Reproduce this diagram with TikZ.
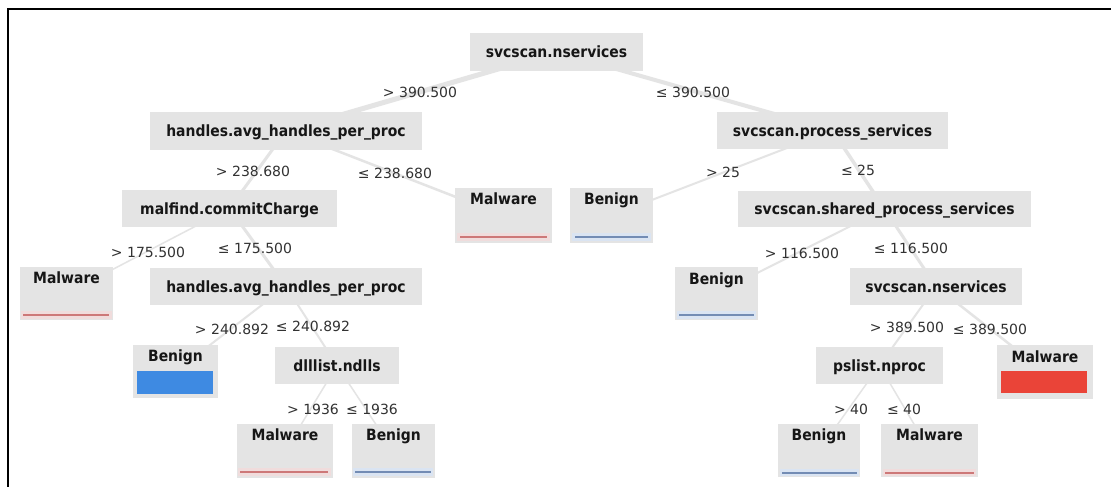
\documentclass[tikz,border=0pt]{standalone}
\usepackage{fontspec}
\setmainfont{DejaVu Sans}
\newfontfamily\nodefont[FakeStretch=0.9]{DejaVu Sans Bold}
\usetikzlibrary{backgrounds}
\definecolor{boxgray}{RGB}{228,228,228}
\definecolor{edgegray}{RGB}{228,228,228}
\definecolor{txt}{RGB}{22,22,22}
\definecolor{lbl}{RGB}{50,50,50}
\definecolor{malline}{RGB}{205,120,120}
\definecolor{benline}{RGB}{115,140,180}
\definecolor{malband}{RGB}{240,220,220}
\definecolor{benband}{RGB}{218,228,242}
\definecolor{malfill}{RGB}{234,68,56}
\definecolor{benfill}{RGB}{62,138,226}
\tikzset{
  inner/.style={fill=boxgray, inner sep=0pt, text=txt, text height=11pt, text depth=0pt,
                font=\nodefont\fontsize{15.5}{17}\selectfont},
  leafbox/.style={fill=boxgray, inner sep=0pt},
  leaftext/.style={inner sep=0pt, text=txt, text height=11pt, text depth=0pt,
                   font=\nodefont\fontsize{15.5}{17}\selectfont},
  cond/.style={inner sep=0pt, text=lbl, text height=10pt, text depth=0pt,
               font=\fontsize{14}{16}\selectfont},
  conn/.style={draw=edgegray, line width=#1, line cap=round},
  conn/.default=3pt,
  malbar/.style={draw=malline, line width=1.6pt},
  benbar/.style={draw=benline, line width=1.6pt},
}
\begin{document}
\begin{tikzpicture}[x=1pt,y=-1pt]
\useasboundingbox (0,0) rectangle (1111,487);
\draw[line width=2pt] (7.5,487) -- (7.5,9.5) -- (1111,9.5);

% inner nodes
\node[inner, minimum width=173pt, minimum height=38pt] (root) at (556.5,52) {svcscan.nservices};
\node[inner, minimum width=272pt, minimum height=38pt] (h1) at (286,131) {handles.avg\_handles\_per\_proc};
\node[inner, minimum width=231pt, minimum height=37pt] (sp) at (832.5,130.5) {svcscan.process\_services};
\node[inner, minimum width=215pt, minimum height=37pt] (mf) at (229.5,208.5) {malfind.commitCharge};
\node[inner, minimum width=293pt, minimum height=36pt] (shp) at (884.5,209) {svcscan.shared\_process\_services};
\node[inner, minimum width=272pt, minimum height=37pt] (h2) at (286,286.5) {handles.avg\_handles\_per\_proc};
\node[inner, minimum width=172pt, minimum height=37pt] (sv2) at (936,286.5) {svcscan.nservices};
\node[inner, minimum width=124pt, minimum height=37pt] (dl) at (337,365.5) {dlllist.ndlls};
\node[inner, minimum width=127pt, minimum height=37pt] (ps) at (879.5,365.5) {pslist.nproc};

% leaves
\node[leafbox, minimum width=97pt, minimum height=55pt] (l1) at (503.5,215.5) {};
\node[leaftext] (l1t) at (503.5,199) {Malware};
\fill[malband] (457,233) rectangle (550,241);
\draw[malbar] (460,237) -- (547,237);

\node[leafbox, minimum width=83pt, minimum height=55pt] (l2) at (611.5,215.5) {};
\node[leaftext] (l2t) at (611.5,199) {Benign};
\fill[benband] (572,233) rectangle (651,241);
\draw[benbar] (575,237) -- (648,237);

\node[leafbox, minimum width=93pt, minimum height=53pt] (l3) at (66.5,293.5) {};
\node[leaftext] (l3t) at (66.5,278) {Malware};
\fill[malband] (21,311) rectangle (112,319);
\draw[malbar] (23,315) -- (109,315);

\node[leafbox, minimum width=83pt, minimum height=53pt] (l4) at (716.5,293.5) {};
\node[leaftext] (l4t) at (716.5,279) {Benign};
\fill[benband] (677,311) rectangle (756,319);
\draw[benbar] (679,315) -- (754,315);

\node[leafbox, minimum width=85pt, minimum height=53pt] (l5) at (175.5,371.5) {};
\node[leaftext] (l5t) at (175.5,356) {Benign};
\fill[benfill] (137,371) rectangle (213,394);

\node[leafbox, minimum width=96pt, minimum height=54pt] (l6) at (1045,372) {};
\node[leaftext] (l6t) at (1045,357) {Malware};
\fill[malfill] (1001,371) rectangle (1087,393);

\node[leafbox, minimum width=96pt, minimum height=54pt] (l7) at (285,451) {};
\node[leaftext] (l7t) at (285,435) {Malware};
\fill[malband] (238,468) rectangle (331,476);
\draw[malbar] (240,472) -- (328,472);

\node[leafbox, minimum width=83pt, minimum height=54pt] (l8) at (393.5,451) {};
\node[leaftext] (l8t) at (393.5,435) {Benign};
\fill[benband] (353,468) rectangle (433,476);
\draw[benbar] (355,472) -- (431,472);

\node[leafbox, minimum width=82pt, minimum height=53pt] (l9) at (819,450.5) {};
\node[leaftext] (l9t) at (819,435) {Benign};
\fill[benband] (780,469) rectangle (859,476);
\draw[benbar] (782,473) -- (857,473);

\node[leafbox, minimum width=97pt, minimum height=53pt] (l10) at (929.5,450.5) {};
\node[leaftext] (l10t) at (929.5,435) {Malware};
\fill[malband] (883,469) rectangle (976,476);
\draw[malbar] (885,473) -- (974,473);

% condition labels
\node[cond] (c1) at (420,92) {> 390.500};
\node[cond] (c2) at (693,92) {≤ 390.500};
\node[cond] (c3) at (253,171) {> 238.680};
\node[cond] (c4) at (395,173) {≤ 238.680};
\node[cond] (c5) at (723,172) {> 25};
\node[cond] (c6) at (858,170) {≤ 25};
\node[cond] (c7) at (148,252) {> 175.500};
\node[cond] (c8) at (255,248) {≤ 175.500};
\node[cond] (c9) at (802,253) {> 116.500};
\node[cond] (c10) at (911,248) {≤ 116.500};
\node[cond] (c11) at (232,329) {> 240.892};
\node[cond] (c12) at (313,326) {≤ 240.892};
\node[cond] (c13) at (907,327) {> 389.500};
\node[cond] (c14) at (990,329) {≤ 389.500};
\node[cond] (c15) at (313,409) {> 1936};
\node[cond] (c16) at (372,409) {≤ 1936};
\node[cond] (c17) at (851,409) {> 40};
\node[cond] (c18) at (904,409) {≤ 40};

% connectors
\begin{pgfonlayer}{background}
\fill[white] (0,0) rectangle (1111,487);
\draw[conn=5pt] (root.center) -- (h1.center);
\draw[conn=4pt] (root.center) -- (sp.center);
\draw[conn=3pt] (h1.center) -- (mf.center);
\draw[conn=2.5pt] (h1.center) -- (l1.center);
\draw[conn=2pt] (sp.center) -- (l2.center);
\draw[conn=3.5pt] (sp.center) -- (shp.center);
\draw[conn=1.5pt] (mf.center) -- (l3.center);
\draw[conn=3pt] (mf.center) -- (h2.center);
\draw[conn=2pt] (shp.center) -- (l4.center);
\draw[conn=3pt] (shp.center) -- (sv2.center);
\draw[conn=2pt] (h2.center) -- (l5.center);
\draw[conn=2pt] (h2.center) -- (dl.center);
\draw[conn=2pt] (sv2.center) -- (ps.center);
\draw[conn=2.5pt] (sv2.center) -- (l6.center);
\draw[conn=1.5pt] (dl.center) -- (l7.center);
\draw[conn=1.5pt] (dl.center) -- (l8.center);
\draw[conn=1.5pt] (ps.center) -- (l9.center);
\draw[conn=1.5pt] (ps.center) -- (l10.center);
\end{pgfonlayer}
\end{tikzpicture}
\end{document}
